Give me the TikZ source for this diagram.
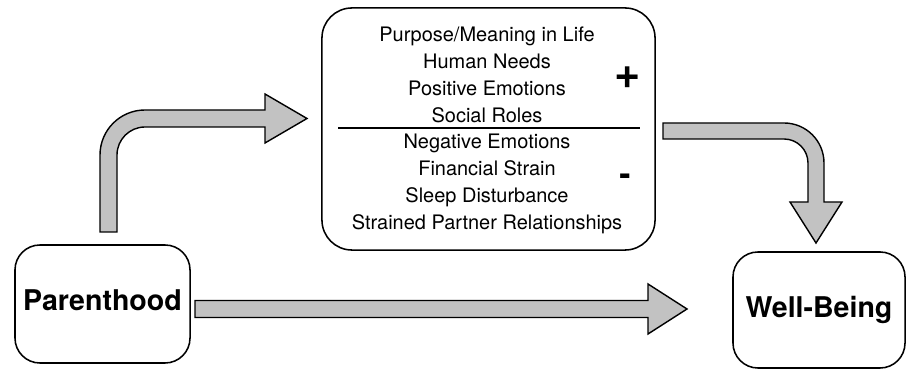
\documentclass[tikz,border=0pt]{standalone}
\usepackage{fontspec}
\setmainfont{TeX Gyre Heros}

\begin{document}
\begin{tikzpicture}[x=0.025cm, y=0.025cm]
    % Colours
    \definecolor{borderColour}{HTML}{000000}
    \definecolor{arrowColour}{HTML}{C2C2C2}

    \tikzset{
        box/.style={draw=borderColour, line width=1.1pt, rounded corners=0.625cm,
            inner sep=0pt, align=center},
        fatArrow/.style={fill=arrowColour, draw=borderColour, line width=1pt, line join=miter},
        listText/.style={align=center, font=\fontsize{14.2}{19.2}\selectfont},
        bigLabel/.style={font=\fontsize{20.3}{24}\selectfont\bfseries},
        signText/.style={font=\fontsize{24}{24}\selectfont\bfseries}
    }

    \useasboundingbox (0,0) rectangle (908,373);

    % Boxes
    \node[box, minimum width=4.375cm, minimum height=2.95cm] (parent) at (102.5,69) {};
    \node[bigLabel] (parentText) at (102.5,73) {Parenthood};
    \node[box, minimum width=4.3cm, minimum height=2.9cm, bigLabel] (well) at (819,63) {Well-Being};
    \node[box, rounded corners=0.75cm, minimum width=8.325cm, minimum height=6.05cm] (mediators) at (488.5,244) {};

    % Contents of the middle box
    \node[listText] (posList) at (487,298) {Purpose/Meaning in Life\\Human Needs\\Positive Emotions\\Social Roles};
    \node[listText] (negList) at (487,189.5) {Negative Emotions\\Financial Strain\\Sleep Disturbance\\Strained Partner Relationships};
    \draw[line width=1pt] (338,245) -- (640,245);
    \node[signText, font=\fontsize{32}{32}\selectfont\bfseries] (plus) at (628,295) {+};
    \node[signText] (minus) at (625,193) {-};

    % Bent arrow from Parenthood up to the middle box
    \filldraw[fatArrow] (100,141) -- (100,218) arc (180:90:45) -- (265,263) -- (265,279)
        -- (307,254.5) -- (265,230) -- (265,246) -- (145,246) arc (90:180:28) -- (117,141) -- cycle;

    % Bent arrow from the middle box down to Well-Being
    \filldraw[fatArrow] (663,250) -- (784,250) arc (90:0:40) -- (824,171) -- (842,171)
        -- (816,130) -- (790,171) -- (808,171) -- (808,210) arc (0:90:24) -- (663,234) -- cycle;

    % Straight arrow from Parenthood to Well-Being
    \filldraw[fatArrow] (195,55.5) -- (195,72.5) -- (648,72.5) -- (648,89)
        -- (687,64) -- (648,39) -- (648,55.5) -- cycle;

\end{tikzpicture}
\end{document}
